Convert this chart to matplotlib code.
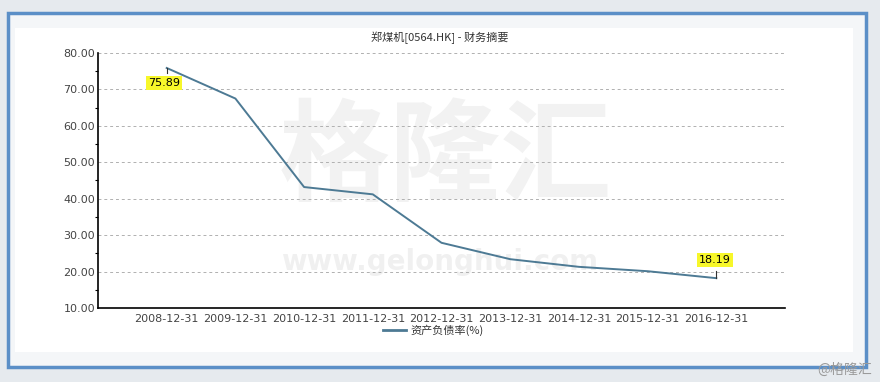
import matplotlib.pyplot as plt
from matplotlib.patches import Rectangle

plt.rcParams['font.family'] = ['Noto Sans CJK SC', 'DejaVu Sans']

fechas = ['2008-12-31', '2009-12-31', '2010-12-31', '2011-12-31', '2012-12-31',
          '2013-12-31', '2014-12-31', '2015-12-31', '2016-12-31']
ratio = [75.89, 67.5, 43.2, 41.2, 27.9, 23.4, 21.3, 20.1, 18.19]
yticks = [10, 20, 30, 40, 50, 60, 70, 80]

W, H = 880, 382
fig = plt.figure(figsize=(W / 100, H / 100), dpi=100)
fig.patch.set_facecolor('#e6eaee')

# marco azul y panel blanco (detras de los ejes)
fig.patches.append(Rectangle((8 / W, 1 - 367 / H), 858 / W, 354 / H, transform=fig.transFigure,
                             facecolor='#f4f6f8', edgecolor='#5b8fc7', linewidth=2.5, zorder=-3))
fig.patches.append(Rectangle((15 / W, 1 - 352 / H), 838 / W, 324 / H, transform=fig.transFigure,
                             facecolor='white', edgecolor='none', zorder=-2))

# marca de agua
fig.text(445 / W, 1 - 160 / H, '格隆汇', fontsize=80, color='#000000', alpha=0.05,
         ha='center', va='center', fontweight='bold', zorder=-1)
fig.text(440 / W, 1 - 262 / H, 'www.gelonghui.com', fontsize=20, color='#000000', alpha=0.06,
         ha='center', va='center', family='DejaVu Sans', fontweight='bold', zorder=-1)

ax = fig.add_axes([98 / W, 1 - 308 / H, 687 / W, 255 / H])
ax.set_facecolor('none')
x = list(range(1, len(fechas) + 1))
ax.plot(x, ratio, color='#4d7a94', linewidth=1.4, zorder=3)

ax.set_xlim(0, 10)
ax.set_ylim(10, 80)
ax.set_yticks(yticks)
ax.set_yticklabels([f'{v:.2f}' for v in yticks], fontsize=8, color='#444444', family='DejaVu Sans')
ax.set_yticks([15, 25, 35, 45, 55, 65, 75], minor=True)
ax.set_xticks(x)
ax.set_xticklabels(fechas, fontsize=8, color='#444444', family='DejaVu Sans')
ax.tick_params(axis='x', length=0, pad=4)
ax.tick_params(axis='y', which='major', length=0, pad=2)
ax.tick_params(axis='y', which='minor', length=2.5, direction='out', width=0.8)
for y in yticks[1:]:
    ax.axhline(y, color='#b0b0b0', linestyle=(0, (3, 3)), linewidth=0.7, zorder=1)
for s in ['top', 'right']:
    ax.spines[s].set_visible(False)
ax.spines['left'].set_linewidth(1.2)
ax.spines['bottom'].set_linewidth(1.2)

# etiquetas amarillas
caja = dict(boxstyle='square,pad=0.2', facecolor='#f7f72a', edgecolor='none')
ax.annotate(f'{ratio[0]:.2f}', (x[0], ratio[0]), xytext=(-2, -11), textcoords='offset points',
            ha='center', va='center', fontsize=8, bbox=caja, family='DejaVu Sans', zorder=5)
ax.annotate(f'{ratio[-1]:.2f}', (x[-1], ratio[-1]), xytext=(-1, 13), textcoords='offset points',
            ha='center', va='center', fontsize=8, bbox=caja, family='DejaVu Sans', zorder=5)
ax.plot([x[-1], x[-1]], [ratio[-1], ratio[-1] + 2], color='#333333', linewidth=0.8, zorder=4)
ax.plot([x[0], x[0]], [ratio[0], ratio[0] - 1.5], color='#333333', linewidth=0.8, zorder=4)

fig.text(872 / W, 1 - 370 / H, '@格隆汇', fontsize=10, color='#9a9a9a', ha='right', va='center')

fig.text(440 / W, 1 - 38 / H, '郑煤机[0564.HK] - 财务摘要', fontsize=8, color='#333333',
         ha='center', va='center')

# leyenda
fig.lines.append(plt.Line2D([383 / W, 406 / W], [1 - 330 / H, 1 - 330 / H], transform=fig.transFigure,
                            color='#4d7a94', linewidth=2))
fig.text(410 / W, 1 - 330 / H, '资产负债率(%)', fontsize=8, color='#333333', ha='left', va='center')

fig.savefig('out.png', dpi=100)
